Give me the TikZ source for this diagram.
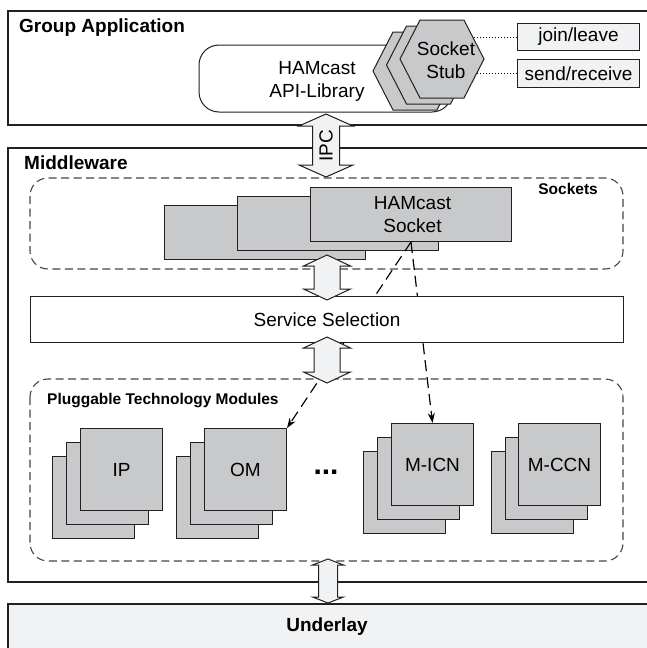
\documentclass[tikz,border=0pt]{standalone}
\usepackage{fontspec}
\setmainfont{Liberation Sans}
\usetikzlibrary{arrows.meta}
\definecolor{modgray}{RGB}{200,201,203}
\definecolor{lightfill}{RGB}{241,242,243}
\definecolor{linedark}{RGB}{35,31,32}
\definecolor{dashgray}{RGB}{70,70,70}
% fat double arrow: x, shaft half width, head half width, y top, y bottom, head length
\newcommand{\fatarrow}[6]{%
  \draw[fatarrowstyle] ({#1-#3},{#4+#6}) -- (#1,#4) -- ({#1+#3},{#4+#6}) -- ({#1+#2},{#4+#6})
    -- ({#1+#2},{#5-#6}) -- ({#1+#3},{#5-#6}) -- (#1,#5) -- ({#1-#3},{#5-#6})
    -- ({#1-#2},{#5-#6}) -- ({#1-#2},{#4+#6}) -- cycle;}
% hexagon outline centred at x,y
\newcommand{\hexat}[2]{%
  \draw[hexstyle] ({#1-42},#2) -- ({#1-22},{#2-39}) -- ({#1+22},{#2-39}) -- ({#1+42},#2)
    -- ({#1+22},{#2+39}) -- ({#1-22},{#2+39}) -- cycle;}
\begin{document}
\begin{tikzpicture}[x=1pt,y=-1pt,
  outer/.style={draw=linedark, line width=1.9pt},
  title/.style={font=\fontsize{19}{23}\selectfont\bfseries, inner sep=0, anchor=west},
  subtitle/.style={font=\fontsize{15.5}{18}\selectfont\bfseries, inner sep=0},
  txt/.style={font=\fontsize{19}{23}\selectfont, align=center, inner sep=0},
  dbox/.style={draw=dashgray, line width=1.1pt, dash pattern=on 8pt off 4.5pt, rounded corners=18pt},
  sockrect/.style={draw=linedark, line width=1pt, fill=modgray, minimum width=201, minimum height=54,
    anchor=north west, inner sep=0, font=\fontsize{19}{23}\selectfont, align=center},
  modrect/.style={draw=linedark, line width=1pt, fill=modgray, minimum width=82, minimum height=82,
    anchor=north west, inner sep=0, font=\fontsize{19}{23}\selectfont},
  hexstyle/.style={draw=linedark, line width=1pt, fill=modgray},
  lbox/.style={draw=linedark, line width=1pt, fill=lightfill, anchor=north west, minimum width=122,
    inner sep=0, font=\fontsize{19}{23}\selectfont},
  fatarrowstyle/.style={draw=linedark, line width=1pt, fill=lightfill},
  dasharrow/.style={draw=black, line width=1.2pt, dash pattern=on 11pt off 6pt, -{Stealth[length=10pt,width=7pt]}},
  dotline/.style={draw=black, line width=1pt, dash pattern=on 1.5pt off 1.5pt}
]
\useasboundingbox (0,0) rectangle (646,648);
\fill[white] (0,0) rectangle (646,648);

% outer layers
\draw[outer, fill=lightfill] (8,604) rectangle (660,660);
\node[font=\fontsize{19}{23}\selectfont\bfseries, inner sep=0] (underlay) at (327,627) {Underlay};
\draw[outer] (8,11) rectangle (660,125);
\node[title] (grp) at (19,28) {Group Application};
\draw[outer] (8,148) rectangle (660,582);
\node[title] (mw) at (24,163) {Middleware};

% dashed groups
\draw[dbox] (30,178) rectangle (623,269);
\node[subtitle, anchor=east] (sockets) at (598,189) {Sockets};
\draw[dbox] (30,379) rectangle (623,561);
\node[subtitle, anchor=west] (ptm) at (47,401) {Pluggable Technology Modules};

% sockets
\node[sockrect] (sock3) at (164,205) {};
\node[sockrect] (sock2) at (237,196) {};
\node[sockrect] (sock1) at (310,187) {\hspace*{3pt}HAMcast\\\hspace*{3pt}Socket};
\coordinate (sp) at (411,242);

% modules
\node[modrect] (ip3) at (52,456) {};
\node[modrect] (ip2) at (66,442) {};
\node[modrect] (ip1) at (80,428) {IP};
\node[modrect] (om3) at (176,456) {};
\node[modrect] (om2) at (190,442) {};
\node[modrect] (om1) at (204,428) {OM};
\node[font=\fontsize{30}{30}\selectfont\bfseries, inner sep=0] (dots) at (326,472) {...};
\node[modrect] (micn3) at (363,451) {};
\node[modrect] (micn2) at (377,437) {};
\node[modrect] (micn1) at (391,423) {M-ICN};
\node[modrect] (mccn3) at (491,451) {};
\node[modrect] (mccn2) at (505,437) {};
\node[modrect] (mccn1) at (518,423) {M-CCN};

% dashed arrows from socket to modules
\draw[dasharrow] (sp) -- (om1.north east);
\draw[dasharrow] (sp) -- (micn1.north);

% service selection
\node[draw=linedark, line width=1pt, fill=white, minimum width=593, minimum height=46,
  anchor=north west, inner sep=0, font=\fontsize{19}{23}\selectfont] (ss) at (30,296) {Service Selection};

% fat arrows
\fatarrow{327}{13}{23.5}{255}{300}{11}
\fatarrow{327}{13}{23.5}{337}{383}{11}
\fatarrow{328}{9.5}{15.5}{559}{603}{6}

% application
\draw[draw=linedark, line width=1pt, fill=white, rounded corners=20pt] (199,45) rectangle (452,112);
\node[txt] (api) at (317,81) {HAMcast\\API-Library};
\node[lbox, minimum height=27] (join) at (517,23) {join/leave};
\node[lbox, minimum height=28] (send) at (517,59) {send/receive};
\coordinate (stubc) at (442,59);
\draw[dotline] (join.west) -- (join.west -| stubc);
\draw[dotline] (send.west) -- (send.west -| stubc);
\hexat{415}{71}
\hexat{428.5}{65}
\hexat{442}{59}
\node[txt] (stub) at (446,60) {Socket\\Stub};

% IPC arrow
\fatarrow{326}{13.5}{27}{114}{177}{12}
\node[font=\fontsize{19}{23}\selectfont, inner sep=0, rotate=90] (ipc) at (326,146) {IPC};
\end{tikzpicture}
\end{document}
